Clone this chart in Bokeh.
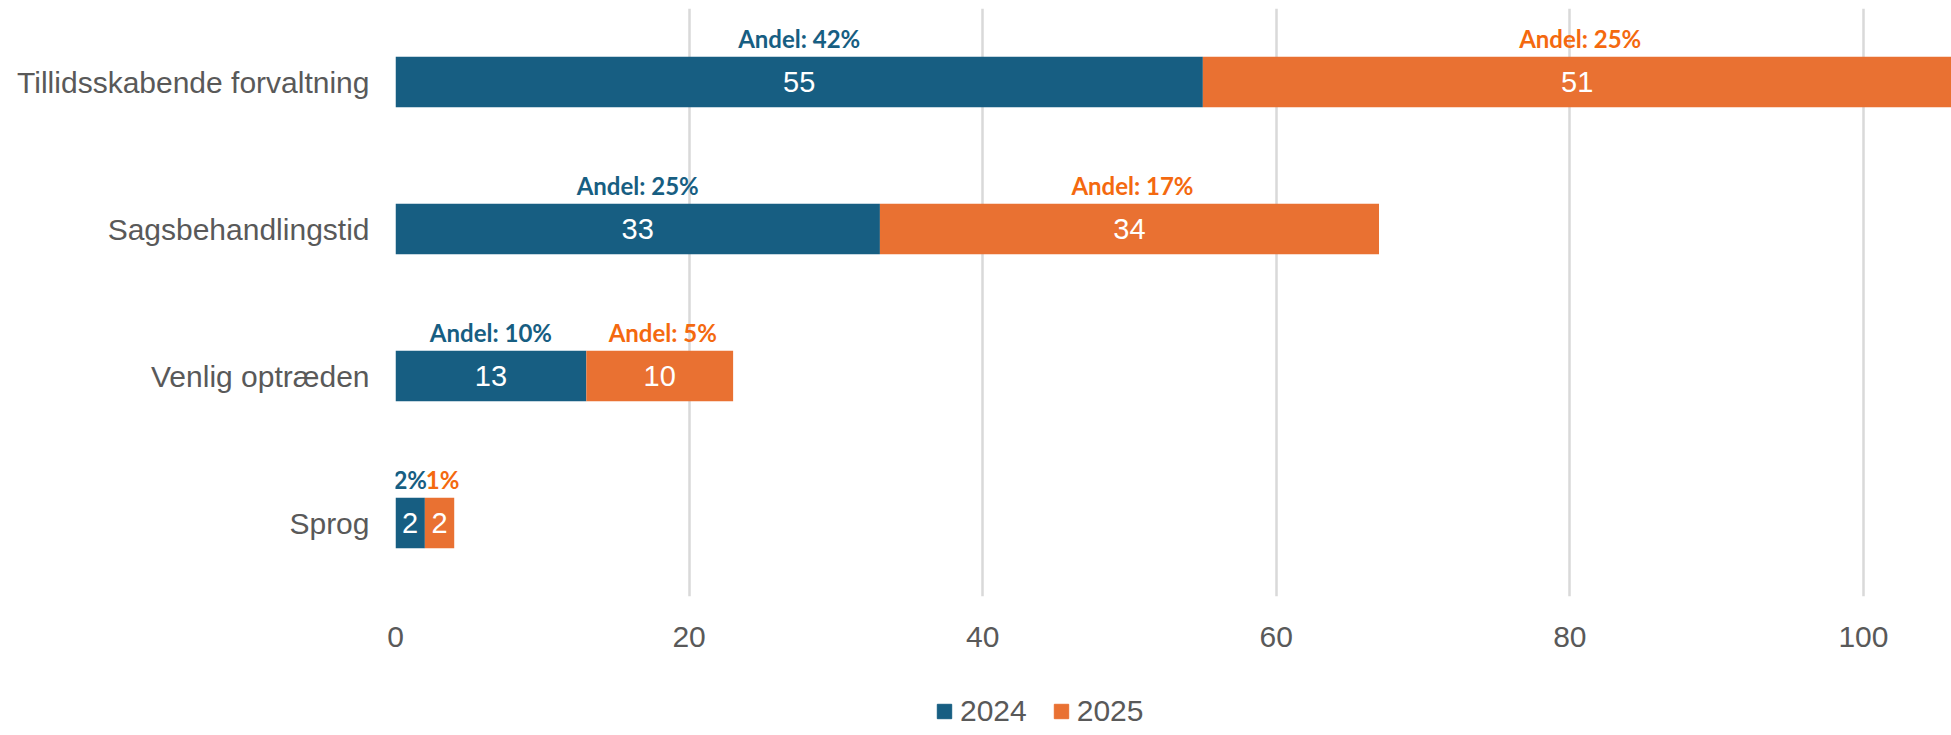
from bokeh.plotting import figure
from bokeh.layouts import column
from bokeh.models import Range1d, FactorRange, ColumnDataSource, Legend, LegendItem
from bokeh.core.properties import value
from bokeh.embed import file_html
from bokeh.resources import INLINE

# ---- data ----
categories = ["Tillidsskabende forvaltning", "Sagsbehandlingstid", "Venlig optræden", "Sprog"]
counts_2024 = [55, 33, 13, 2]
counts_2025 = [51, 34, 10, 2]
share_2024 = [42, 25, 10, 2]
share_2025 = [25, 17, 5, 1]
share_prefix = ["Andel: ", "Andel: ", "Andel: ", ""]
x_ticks = [0, 20, 40, 60, 80, 100]
series_names = ["2024", "2025"]

BLUE = "#175E82"
ORANGE = "#E97132"
BLUE_TXT = "#175E82"
ORANGE_TXT = "#F4690F"
GRAY = "#595959"

src = ColumnDataSource(dict(
    cat=categories,
    y2024=counts_2024,
    y2025=counts_2025,
    mid2024=[a / 2 for a in counts_2024],
    mid2025=[a + b / 2 for a, b in zip(counts_2024, counts_2025)],
    val2024=[str(v) for v in counts_2024],
    val2025=[str(v) for v in counts_2025],
    lbl2024=[p + f"{s}%" for p, s in zip(share_prefix, share_2024)],
    lbl2025=[p + f"{s}%" for p, s in zip(share_prefix, share_2025)],
))

p = figure(
    width=1951, height=660,
    y_range=FactorRange(factors=list(reversed(categories))),
    x_range=Range1d(0, 106.0),
    output_backend="svg", toolbar_location=None,
    min_border_left=395, min_border_right=0, min_border_top=8, min_border_bottom=64,
)
p.outline_line_color = None
p.background_fill_color = "white"

rs = p.hbar_stack(["y2024", "y2025"], y="cat", height=0.345, color=[BLUE, ORANGE],
                  source=src, line_color=None)

# value labels inside bars
for col, mid in (("val2024", "mid2024"), ("val2025", "mid2025")):
    p.text(x=mid, y="cat", text=col, source=src, text_color="white",
           text_font=value("Liberation Sans"), text_font_size="29px",
           text_align="center", text_baseline="middle")

# share labels above segments
for col, mid, c, dx in (("lbl2024", "mid2024", BLUE_TXT, 0), ("lbl2025", "mid2025", ORANGE_TXT, 3)):
    p.text(x=mid, y="cat", text=col, source=src, text_color=c,
           text_font=value("Lato"), text_font_style="bold", text_font_size="24px",
           text_align="center", text_baseline="alphabetic", y_offset=-44, x_offset=dx)

# axes
p.xaxis.ticker = x_ticks
p.xaxis.axis_line_color = None
p.xaxis.major_tick_line_color = None
p.xaxis.minor_tick_line_color = None
p.xaxis.major_tick_out = 0
p.xaxis.major_tick_in = 0
p.xaxis.minor_tick_out = 0
p.xaxis.major_label_standoff = 30
p.xaxis.major_label_text_font = "Liberation Sans"
p.xaxis.major_label_text_font_size = "30px"
p.xaxis.major_label_text_color = GRAY

p.yaxis.axis_line_color = None
p.yaxis.major_tick_line_color = None
p.yaxis.minor_tick_line_color = None
p.yaxis.major_tick_out = 0
p.yaxis.major_tick_in = 0
p.yaxis.minor_tick_out = 0
p.yaxis.major_label_standoff = 26
p.yaxis.major_label_text_font = "Liberation Sans"
p.yaxis.major_label_text_font_size = "30px"
p.yaxis.major_label_text_color = GRAY

p.xgrid.grid_line_color = "#D9D9D9"
p.xgrid.grid_line_width = 2.5
p.ygrid.grid_line_color = None

# ---- legend strip below the chart (frames are aligned by the column) ----
lg = figure(width=1951, height=75, x_range=Range1d(0, 1), y_range=Range1d(0, 1),
            output_backend="svg", toolbar_location=None,
            min_border_left=395, min_border_right=0, min_border_top=0, min_border_bottom=0)
lg.axis.visible = False
lg.grid.grid_line_color = None
lg.outline_line_color = None
# zero-size stand-ins that only serve as legend swatches
r1 = lg.hbar(y=0, left=0, right=0, height=0, color=BLUE)
r2 = lg.hbar(y=0, left=0, right=0, height=0, color=ORANGE)

legend = Legend(
    items=[LegendItem(label=series_names[0], renderers=[r1]),
           LegendItem(label=series_names[1], renderers=[r2])],
    location=(540, 7), orientation="horizontal",
    glyph_width=18, glyph_height=18, label_standoff=7, spacing=25,
    padding=0, margin=0, border_line_alpha=0, background_fill_alpha=0,
    label_text_font="Liberation Sans", label_text_font_size="30px",
    label_text_color=GRAY,
)
lg.add_layout(legend)

layout = column(p, lg, spacing=0)
open("out.html", "w").write(file_html(layout, INLINE))
